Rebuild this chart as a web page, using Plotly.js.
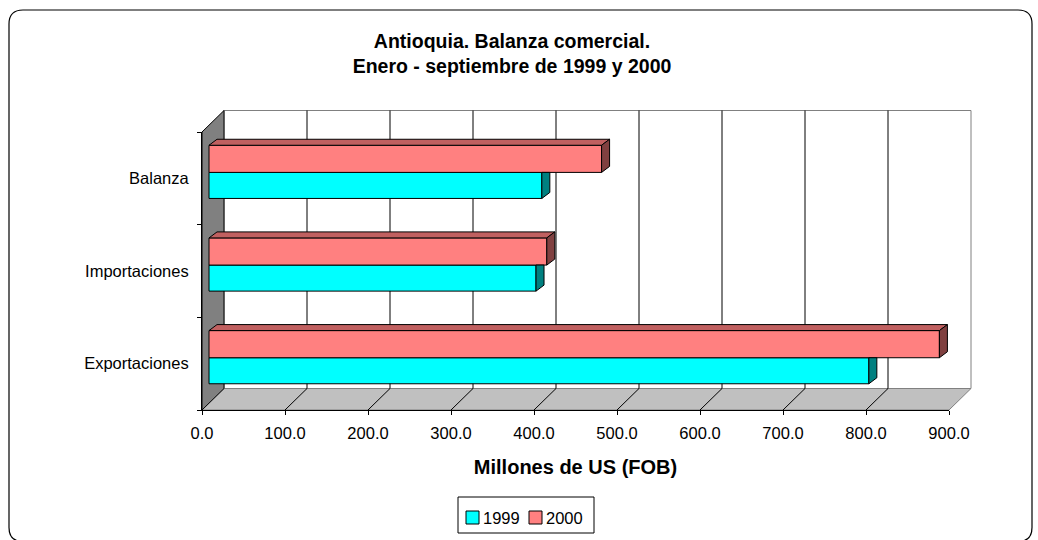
<!DOCTYPE html>
<html>
<head>
<meta charset="utf-8">
<script src="https://cdn.plot.ly/plotly-3.0.1.min.js"></script>
<style>
  html, body { margin: 0; padding: 0; background: #fff; }
  #chart { width: 1038px; height: 540px; }
</style>
</head>
<body>
<div id="chart"></div>
<script>
// data (millones de US$ FOB)
let categories = ["Exportaciones", "Importaciones", "Balanza"];
let years = ["1999", "2000"];
let values1999 = [795, 394, 401];
let values2000 = [880, 407, 473];
let xTicks = [0, 100, 200, 300, 400, 500, 600, 700, 800, 900];

// page geometry (pixels)
const W = 1038, H = 540;
const X0 = 202, X1 = 949;          // front floor: 0 and 900
const YT = 132, YB = 410;          // front edge of left wall
const S = (X1 - X0) / 900;         // px per unit
const PY = (YB - YT) / 3;          // px per category
const WALL_DX = 22, WALL_DY = 21.5;
const BAR_SHIFT = 7;               // bars sit a little behind the front plane
const BAR_DX = 8, BAR_DY = 6;
const FONT = "Liberation Sans, Arial, sans-serif";

const px = p => p / W;
const py = p => 1 - p / H;
const vx = v => X0 + S * v;

function path(points) {
    return "M" + points.map(p => px(p[0]) + "," + py(p[1])).join(" L") + " Z";
}

let shapes = [];

// back wall
shapes.push({
    type: "path", xref: "paper", yref: "paper", layer: "below",
    path: path([[vx(0) + WALL_DX, YT - WALL_DY], [vx(900) + WALL_DX, YT - WALL_DY],
                [vx(900) + WALL_DX, YB - WALL_DY], [vx(0) + WALL_DX, YB - WALL_DY]]),
    fillcolor: "#ffffff", line: {color: "#808080", width: 1}
});
// floor
shapes.push({
    type: "path", xref: "paper", yref: "paper", layer: "below",
    path: path([[vx(0), YB], [vx(0) + WALL_DX, YB - WALL_DY],
                [vx(900) + WALL_DX, YB - WALL_DY], [vx(900), YB]]),
    fillcolor: "#c0c0c0", line: {color: "#808080", width: 1}
});
// grid on wall and floor
xTicks.slice(1, -1).forEach(v => {
    shapes.push({
        type: "line", xref: "paper", yref: "paper", layer: "below",
        x0: px(vx(v) + WALL_DX), y0: py(YT - WALL_DY), x1: px(vx(v) + WALL_DX), y1: py(YB - WALL_DY),
        line: {color: "#000000", width: 1}
    });
    shapes.push({
        type: "line", xref: "paper", yref: "paper", layer: "below",
        x0: px(vx(v)), y0: py(YB), x1: px(vx(v) + WALL_DX), y1: py(YB - WALL_DY),
        line: {color: "#000000", width: 1}
    });
});
// left wall
shapes.push({
    type: "path", xref: "paper", yref: "paper", layer: "below",
    path: path([[X0, YT], [X0 + WALL_DX, YT - WALL_DY], [X0 + WALL_DX, YB - WALL_DY], [X0, YB]]),
    fillcolor: "#808080", line: {color: "#000000", width: 1}
});

// outer rounded frame (bottom edge falls just off the page)
const bl = 9, bt = 10, br = 1032, bb = 541.5, r = 14;
shapes.push({
    type: "path", xref: "paper", yref: "paper", layer: "below",
    path: "M" + px(bl + r) + "," + py(bt) +
          " L" + px(br - r) + "," + py(bt) +
          " Q" + px(br) + "," + py(bt) + " " + px(br) + "," + py(bt + r) +
          " L" + px(br) + "," + py(bb - r) +
          " Q" + px(br) + "," + py(bb) + " " + px(br - r) + "," + py(bb) +
          " L" + px(bl + r) + "," + py(bb) +
          " Q" + px(bl) + "," + py(bb) + " " + px(bl) + "," + py(bb - r) +
          " L" + px(bl) + "," + py(bt + r) +
          " Q" + px(bl) + "," + py(bt) + " " + px(bl + r) + "," + py(bt) + " Z",
    line: {color: "#000000", width: 1.2}
});

// legend box
shapes.push({
    type: "rect", xref: "paper", yref: "paper",
    x0: px(458), y0: py(497), x1: px(594), y1: py(533),
    fillcolor: "#ffffff", line: {color: "#000000", width: 1}
});
shapes.push({
    type: "rect", xref: "paper", yref: "paper",
    x0: px(466), y0: py(511), x1: px(479), y1: py(524),
    fillcolor: "#00ffff", line: {color: "#000000", width: 1}
});
shapes.push({
    type: "rect", xref: "paper", yref: "paper",
    x0: px(529), y0: py(511), x1: px(542), y1: py(524),
    fillcolor: "#ff8080", line: {color: "#000000", width: 1}
});

// bars: front faces
const base = BAR_SHIFT / S;
const off1999 = -0.217, w1999 = 0.281;
const off2000 = 0.064, w2000 = 0.293;
const ypos = categories.map((c, i) => i);

let data = [
    {
        type: "bar", orientation: "h", name: years[0],
        y: ypos, x: values1999, base: ypos.map(() => base),
        offset: off1999, width: w1999,
        marker: {color: "#00ffff", line: {color: "#000000", width: 1}},
        hoverinfo: "skip"
    },
    {
        type: "bar", orientation: "h", name: years[1],
        y: ypos, x: values2000, base: ypos.map(() => base),
        offset: off2000, width: w2000,
        marker: {color: "#ff8080", line: {color: "#000000", width: 1}},
        hoverinfo: "skip"
    }
];

// bars: depth faces
const dxu = BAR_DX / S, dyu = BAR_DY / PY;
function face(pts, color) {
    return {
        type: "scatter", mode: "lines", fill: "toself", fillcolor: color,
        x: pts.map(p => p[0]).concat([pts[0][0]]),
        y: pts.map(p => p[1]).concat([pts[0][1]]),
        line: {color: "#000000", width: 1}, hoverinfo: "skip"
    };
}
ypos.forEach(i => {
    // 1999 side, the upper part is hidden behind the 2000 bar
    let e = base + values1999[i];
    let yb = i + off1999, yt = yb + w1999;
    data.push(face([[e, yb], [e, yt], [e + dxu, yt], [e + dxu, yb + dyu]], "#008080"));

    e = base + values2000[i];
    yb = i + off2000; yt = yb + w2000;
    data.push(face([[base, yt], [e, yt], [e + dxu, yt + dyu], [base + dxu, yt + dyu]], "#c06060"));
    data.push(face([[e, yb], [e, yt], [e + dxu, yt + dyu], [e + dxu, yb + dyu]], "#804040"));
});

let layout = {
    width: W, height: H,
    margin: {l: 0, r: 0, t: 0, b: 0},
    paper_bgcolor: "#ffffff",
    plot_bgcolor: "rgba(0,0,0,0)",
    showlegend: false,
    font: {family: FONT, color: "#000000"},
    title: {
        text: "<b>Antioquia. Balanza comercial.</b><br><b>Enero - septiembre de 1999 y 2000</b>",
        font: {family: FONT, size: 19.5, color: "#000000"},
        x: 512 / W, xanchor: "center", xref: "container",
        y: 1 - 48 / H, yanchor: "middle", yref: "container"
    },
    xaxis: {
        domain: [X0 / W, X1 / W],
        range: [0, 900],
        tickmode: "array",
        tickvals: xTicks,
        ticktext: xTicks.map(v => v.toFixed(1)),
        ticks: "outside", ticklen: 4, tickcolor: "#000000",
        ticklabelstandoff: 4,
        showline: true, linecolor: "#000000", linewidth: 1,
        showgrid: false, zeroline: false,
        tickfont: {family: FONT, size: 16.5, color: "#000000"},
        title: {
            text: "<b>Millones de US (FOB)</b>",
            font: {family: FONT, size: 20, color: "#000000"},
            standoff: 19
        },
        fixedrange: true
    },
    yaxis: {
        domain: [1 - YB / H, 1 - YT / H],
        range: [-0.5, 2.5],
        tickmode: "array",
        tickvals: ypos,
        ticktext: categories,
        ticks: "",
        ticklabelstandoff: 9,
        minor: {tickmode: "array", tickvals: [-0.5, 0.5, 1.5, 2.5], ticks: "outside", ticklen: 4, tickcolor: "#000000"},
        showline: true, linecolor: "#000000", linewidth: 1,
        showgrid: false, zeroline: false,
        tickfont: {family: FONT, size: 16.5, color: "#000000"},
        fixedrange: true
    },
    shapes: shapes,
    annotations: [
        {xref: "paper", yref: "paper", x: px(481), y: py(517.5), xanchor: "left", yanchor: "middle",
         text: years[0], showarrow: false, font: {family: FONT, size: 16.5, color: "#000000"}},
        {xref: "paper", yref: "paper", x: px(544), y: py(517.5), xanchor: "left", yanchor: "middle",
         text: years[1], showarrow: false, font: {family: FONT, size: 16.5, color: "#000000"}}
    ]
};

Plotly.newPlot("chart", data, layout, {displayModeBar: false, staticPlot: true});
</script>
</body>
</html>
